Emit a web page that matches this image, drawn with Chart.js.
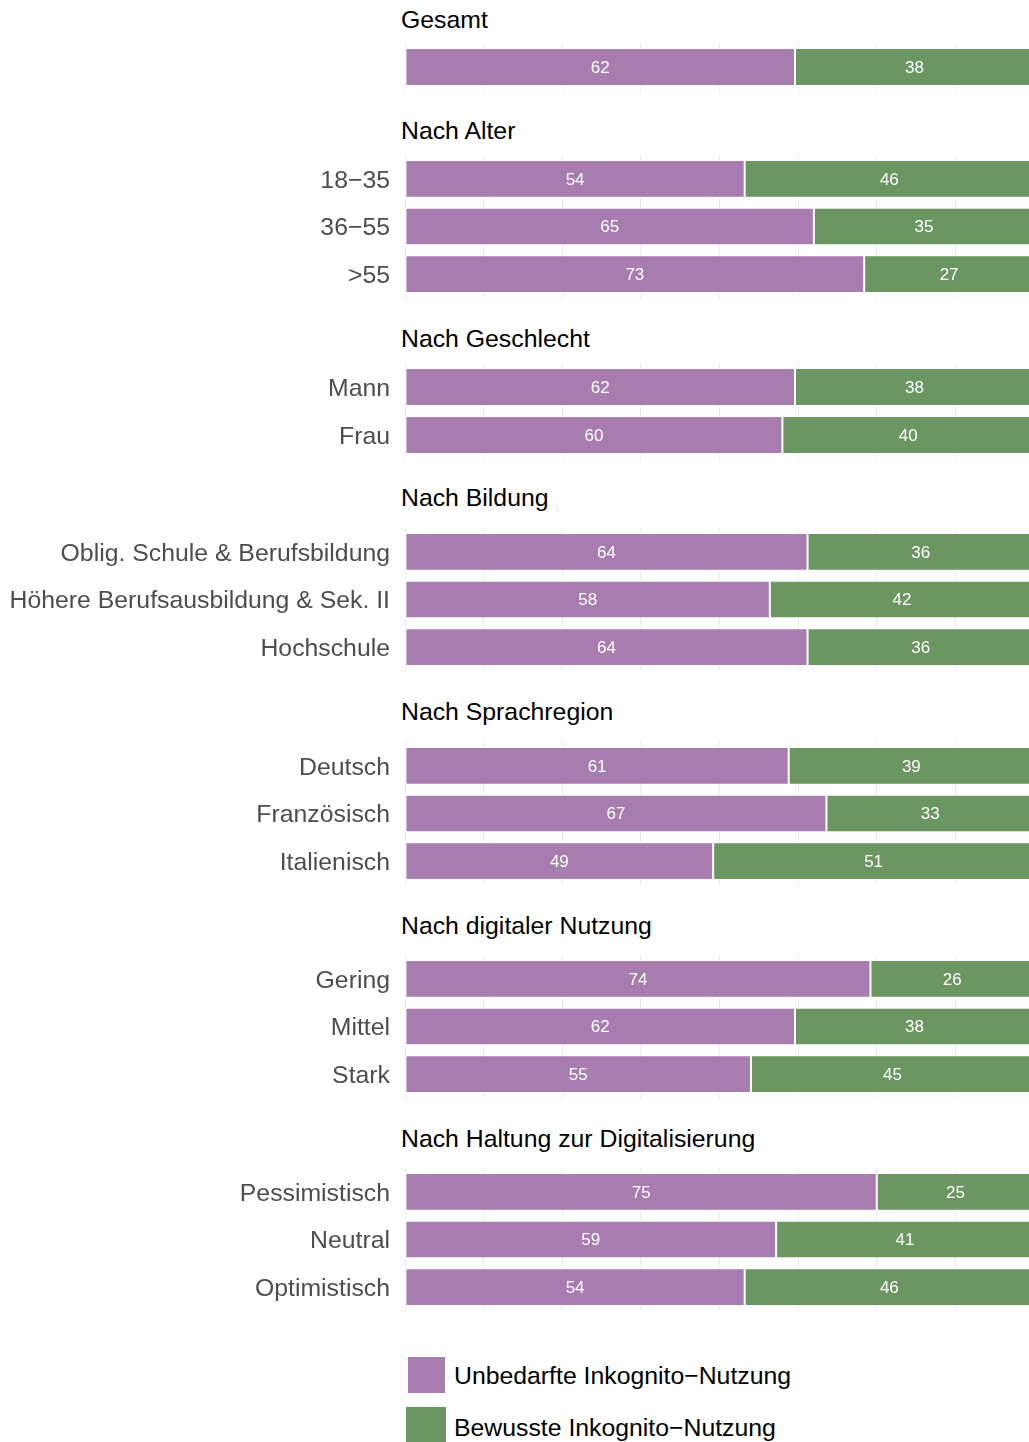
<!DOCTYPE html>
<html>
<head>
<meta charset="utf-8">
<script src="https://cdn.jsdelivr.net/npm/chart.js@4.4.1/dist/chart.umd.min.js"></script>
<style>
  html, body { margin: 0; padding: 0; background: #fff; overflow: hidden; }
  #page { position: relative; width: 1029px; height: 1442px; overflow: hidden;
          font-family: "Liberation Sans", Arial, Helvetica, sans-serif; }
  .title { position: absolute; left: 401px; font-size: 24.8px; line-height: 30px; color: #000; white-space: nowrap; }
  .panel { position: absolute; left: 0; }
  .key { position: absolute; }
  .keytext { position: absolute; left: 454px; font-size: 24.8px; line-height: 30px; color: #000; white-space: nowrap; }
</style>
</head>
<body>
<div id="page"></div>
<script>
// Series names and colours
const seriesNames = ['Unbedarfte Inkognito\u2212Nutzung', 'Bewusste Inkognito\u2212Nutzung'];
const seriesColors = ['#A67DAE', '#6B9561'];

// Panel titles and categories
const groupTitles = ['Gesamt', 'Nach Alter', 'Nach Geschlecht', 'Nach Bildung',
  'Nach Sprachregion', 'Nach digitaler Nutzung', 'Nach Haltung zur Digitalisierung'];

const gesamtCats = [''];
const alterCats = ['18\u221235', '36\u221255', '>55'];
const geschlechtCats = ['Mann', 'Frau'];
const bildungCats = ['Oblig. Schule & Berufsbildung', 'H\u00f6here Berufsausbildung & Sek. II', 'Hochschule'];
const spracheCats = ['Deutsch', 'Franz\u00f6sisch', 'Italienisch'];
const digitalCats = ['Gering', 'Mittel', 'Stark'];
const haltungCats = ['Pessimistisch', 'Neutral', 'Optimistisch'];

// Values (percent) per group: unbedarft / bewusst
const gesamtUnb = [62], gesamtBew = [38];
const alterUnb = [54, 65, 73], alterBew = [46, 35, 27];
const geschlechtUnb = [62, 60], geschlechtBew = [38, 40];
const bildungUnb = [64, 58, 64], bildungBew = [36, 42, 36];
const spracheUnb = [61, 67, 49], spracheBew = [39, 33, 51];
const digitalUnb = [74, 62, 55], digitalBew = [26, 38, 45];
const haltungUnb = [75, 59, 54], haltungBew = [25, 41, 46];

const groups = [
  [gesamtCats, gesamtUnb, gesamtBew],
  [alterCats, alterUnb, alterBew],
  [geschlechtCats, geschlechtUnb, geschlechtBew],
  [bildungCats, bildungUnb, bildungBew],
  [spracheCats, spracheUnb, spracheBew],
  [digitalCats, digitalUnb, digitalBew],
  [haltungCats, haltungUnb, haltungBew],
];

// layout: title centre y and plot top y for each panel
const titleY = [20, 131, 339, 498, 712, 926, 1139];
const plotTop = [43, 155, 363, 528, 742, 955, 1168];
const ROW_H = 47.8;
const FONT = '"Liberation Sans", Arial, Helvetica, sans-serif';

const page = document.getElementById('page');

// white value labels centred in each segment
const valueLabels = {
  id: 'valueLabels',
  afterDatasetsDraw(chart) {
    const ctx = chart.ctx;
    ctx.save();
    ctx.fillStyle = '#fff';
    ctx.font = '17px ' + FONT;
    ctx.textAlign = 'center';
    ctx.textBaseline = 'middle';
    chart.data.datasets.forEach((ds, i) => {
      chart.getDatasetMeta(i).data.forEach((bar, j) => {
        ctx.fillText(String(ds.data[j]), (bar.base + bar.x) / 2, bar.y + 1);
      });
    });
    ctx.restore();
  }
};

groups.forEach(([cats, unb, bew], g) => {
  const t = document.createElement('div');
  t.className = 'title';
  t.textContent = groupTitles[g];
  t.style.top = (titleY[g] - 15) + 'px';
  page.appendChild(t);

  const h = Math.round(ROW_H * cats.length);
  const wrap = document.createElement('div');
  wrap.className = 'panel';
  wrap.style.top = plotTop[g] + 'px';
  const cv = document.createElement('canvas');
  cv.width = 1040;
  cv.height = h;
  cv.style.width = '1040px';
  cv.style.height = h + 'px';
  wrap.appendChild(cv);
  page.appendChild(wrap);

  const mkSet = (k, data) => ({
    label: seriesNames[k],
    data,
    backgroundColor: seriesColors[k],
    borderColor: '#ffffff',
    borderWidth: 1,
    borderSkipped: false,
    barPercentage: 0.79,
    categoryPercentage: 1,
  });

  new Chart(cv, {
    type: 'bar',
    data: { labels: cats, datasets: [mkSet(0, unb), mkSet(1, bew)] },
    options: {
      indexAxis: 'y',
      responsive: false,
      animation: false,
      layout: { padding: { left: 0, right: 6, top: 0, bottom: 0 } },
      plugins: { legend: { display: false }, tooltip: { enabled: false } },
      scales: {
        x: {
          stacked: true, min: 0, max: 100,
          ticks: { display: false, stepSize: 12.5 },
          grid: { color: '#e8e8e8', lineWidth: 1, drawTicks: false },
          border: { display: false },
          afterFit(s) { s.height = 0; s.paddingLeft = 0; s.paddingRight = 0; },
        },
        y: {
          stacked: true,
          ticks: { color: '#4d4d4d', font: { size: 24.8, family: FONT }, padding: 15, labelOffset: 2 },
          grid: { display: false, drawTicks: false },
          border: { display: false },
          afterFit(s) { s.width = 405; s.paddingTop = 0; s.paddingBottom = 0; },
        },
      },
    },
    plugins: [valueLabels],
  });
});

// legend
const keyBoxes = [[408, 1357, 37, 36], [406, 1407, 40, 36]];
const keyTextY = [1376, 1428];
seriesNames.forEach((name, k) => {
  const b = document.createElement('div');
  b.className = 'key';
  b.style.left = keyBoxes[k][0] + 'px';
  b.style.top = keyBoxes[k][1] + 'px';
  b.style.width = keyBoxes[k][2] + 'px';
  b.style.height = keyBoxes[k][3] + 'px';
  b.style.background = seriesColors[k];
  page.appendChild(b);
  const tx = document.createElement('div');
  tx.className = 'keytext';
  tx.textContent = name;
  tx.style.top = (keyTextY[k] - 15) + 'px';
  page.appendChild(tx);
});
</script>
</body>
</html>
